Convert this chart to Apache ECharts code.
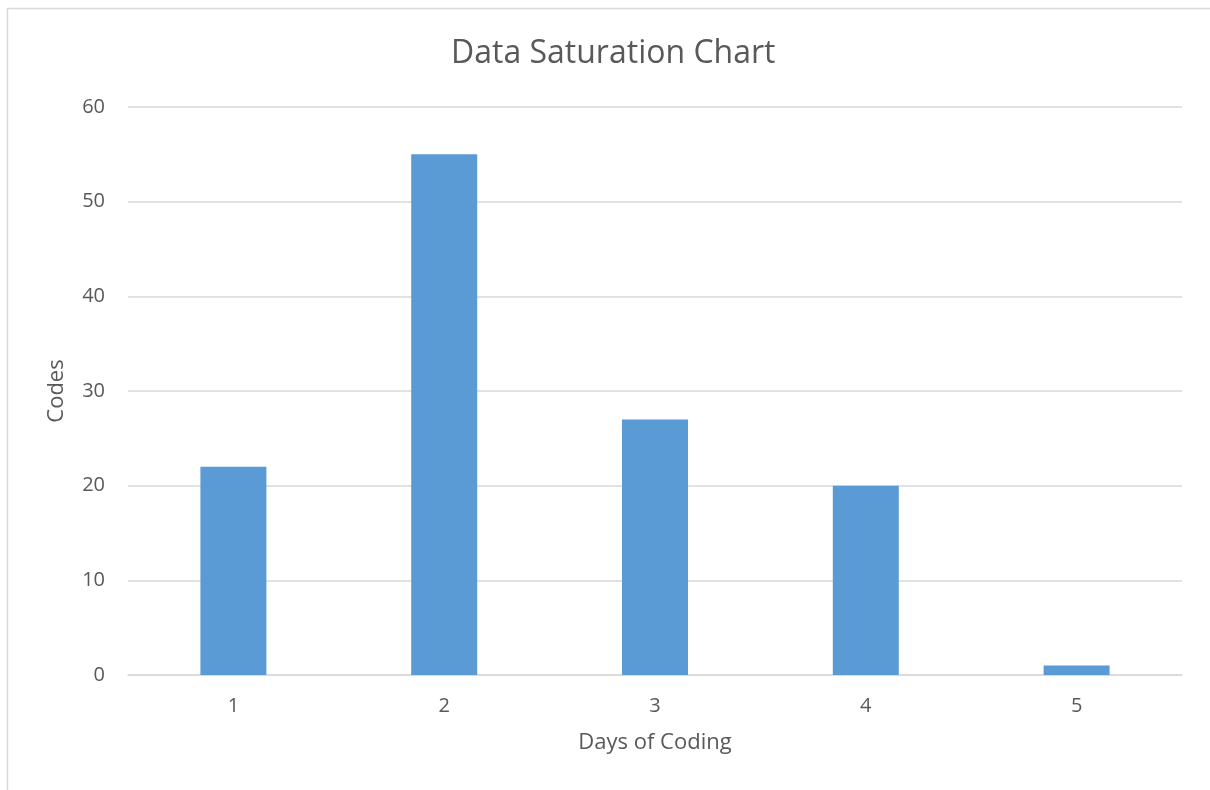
<!DOCTYPE html>
<html>
<head>
<meta charset="utf-8">
<script src="https://cdn.jsdelivr.net/npm/echarts@6/dist/echarts.min.js"></script>
<style>
html,body{margin:0;padding:0;background:#fff;}
#c{width:1210px;height:790px;}
</style>
</head>
<body>
<div id="c"></div>
<script>
const categories = ['1', '2', '3', '4', '5'];
const codes = [22, 55, 27, 20, 1];
const yTicks = { min: 0, max: 60, interval: 10 };

const FONT = '"Open Sans", "Noto Sans", sans-serif';
const TXT = '#595959';
const chart = echarts.init(document.getElementById('c'), null, { renderer: 'canvas' });
chart.setOption({
  backgroundColor: '#ffffff',
  animation: false,
  graphic: [{
    type: 'rect',
    shape: { x: 7.5, y: 8.5, width: 1300, height: 900 },
    style: { fill: 'none', stroke: '#d9d9d9', lineWidth: 1.5 },
    silent: true, z: -10
  }],
  title: {
    text: 'Data Saturation Chart',
    left: 446,
    top: 33,
    textStyle: { fontFamily: FONT, fontSize: 32, fontWeight: 'normal', color: TXT }
  },
  grid: { left: 128, right: 28, top: 107, bottom: 115, containLabel: false },
  xAxis: {
    type: 'category',
    data: categories,
    name: 'Days of Coding',
    nameLocation: 'middle',
    nameGap: 57,
    nameTextStyle: { fontFamily: FONT, fontSize: 22, color: TXT },
    axisLine: { show: true, lineStyle: { color: '#d9d9d9', width: 1.5 } },
    axisTick: { show: false },
    axisLabel: { fontFamily: FONT, fontSize: 20, color: TXT, margin: 21 }
  },
  yAxis: {
    type: 'value',
    min: yTicks.min, max: yTicks.max, interval: yTicks.interval,
    name: 'Codes',
    nameLocation: 'middle',
    nameGap: 60,
    nameRotate: 90,
    nameTextStyle: { fontFamily: FONT, fontSize: 22, color: TXT },
    axisLine: { show: false },
    axisTick: { show: false },
    axisLabel: { fontFamily: FONT, fontSize: 20, color: TXT, margin: 23 },
    splitLine: { lineStyle: { color: '#d9d9d9', width: 1.5 } }
  },
  series: [{
    type: 'bar',
    data: codes,
    barWidth: 66,
    itemStyle: { color: '#5b9bd5' }
  }]
});
</script>
</body>
</html>
